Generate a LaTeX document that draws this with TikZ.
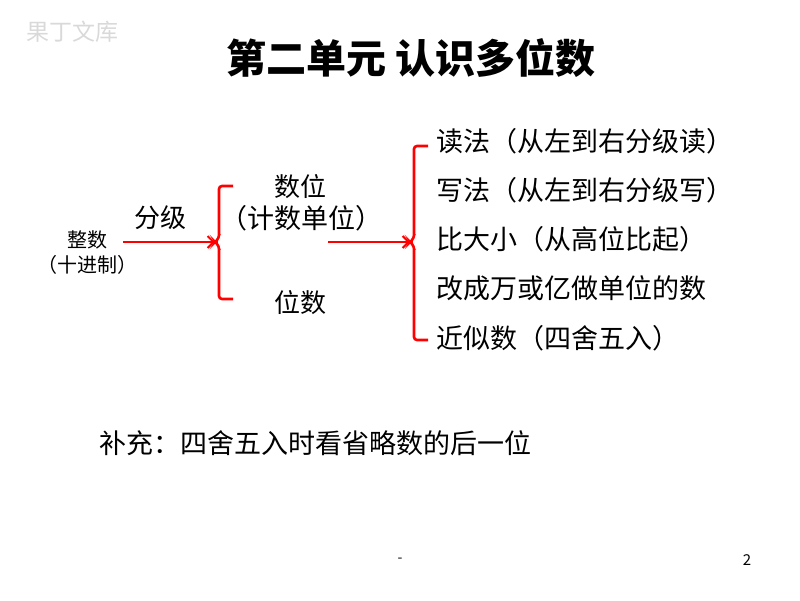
\documentclass[tikz,border=0pt]{standalone}
\usepackage{fontspec}
\setmainfont{Noto Sans CJK SC}
\usepackage{tikz}
\usetikzlibrary{arrows.meta}
\newcommand{\fsz}[1]{\fontsize{#1}{#1}\selectfont}
\tikzset{
	redline/.style={red,line width=2.6pt},
	redarrow/.style={redline,-{Straight Barb[length=6pt,width=12pt,line width=2pt]}},
	item/.style={anchor=west,inner sep=0pt,font=\fsz{27}},
	word/.style={inner sep=0pt,font=\fsz{26}},
}

\begin{document}
\begin{tikzpicture}[x=1pt,y=-1pt]
	\useasboundingbox (0,0) rectangle (800,600);
	
	\node[gray!30,inner sep=0pt,font=\fsz{23}] at (72,32) (mark) {果丁文库};
	\node[inner sep=0pt,font=\bfseries\fsz{40}] at (411,58) (title) {第二单元 认识多位数};
	
	\node[inner sep=0pt,font=\fsz{20}] at (87,240) (zs) {整数};
	\node[inner sep=0pt,font=\fsz{20}] at (87,265) (jz) {（十进制）};
	\node[word] at (160,218) (fj) {分级};
	
	\node[word] at (300,187) (sw) {数位};
	\node[inner sep=0pt,font=\fsz{27}] at (301,218) (jdw) {（计数单位）};
	\node[word] at (300,303) (ws) {位数};
	
	% left brace
	\coordinate (b1) at (215,242);
	\draw[redline,rounded corners=3pt] (233,186) -- (219,186) -- (219,238) -- (b1)
		-- (219,246) -- (219,299) -- (233,299);
	\draw[redarrow] (123,242) -- (b1);
	
	% right brace
	\coordinate (b2) at (410,242);
	\draw[redline,rounded corners=3pt] (428,146) -- (414,146) -- (414,238) -- (b2)
		-- (414,246) -- (414,340) -- (428,340);
	\draw[redarrow] (328,242) -- (b2);
	
	\node[item] at (436,141) (i1) {读法（从左到右分级读）};
	\node[item] at (436,190) (i2) {写法（从左到右分级写）};
	\node[item] at (436,239) (i3) {比大小（从高位比起）};
	\node[item] at (436,288) (i4) {改成万或亿做单位的数};
	\node[item] at (436,338) (i5) {近似数（四舍五入）};
	
	\node[item] at (99,443) (note) {补充：四舍五入时看省略数的后一位};
	
	\node[inner sep=0pt,font=\fsz{14}] at (400,560) (dash) {-};
	\node[inner sep=0pt,font=\fsz{15}] at (747,560) (page) {2};
\end{tikzpicture}
\end{document}
